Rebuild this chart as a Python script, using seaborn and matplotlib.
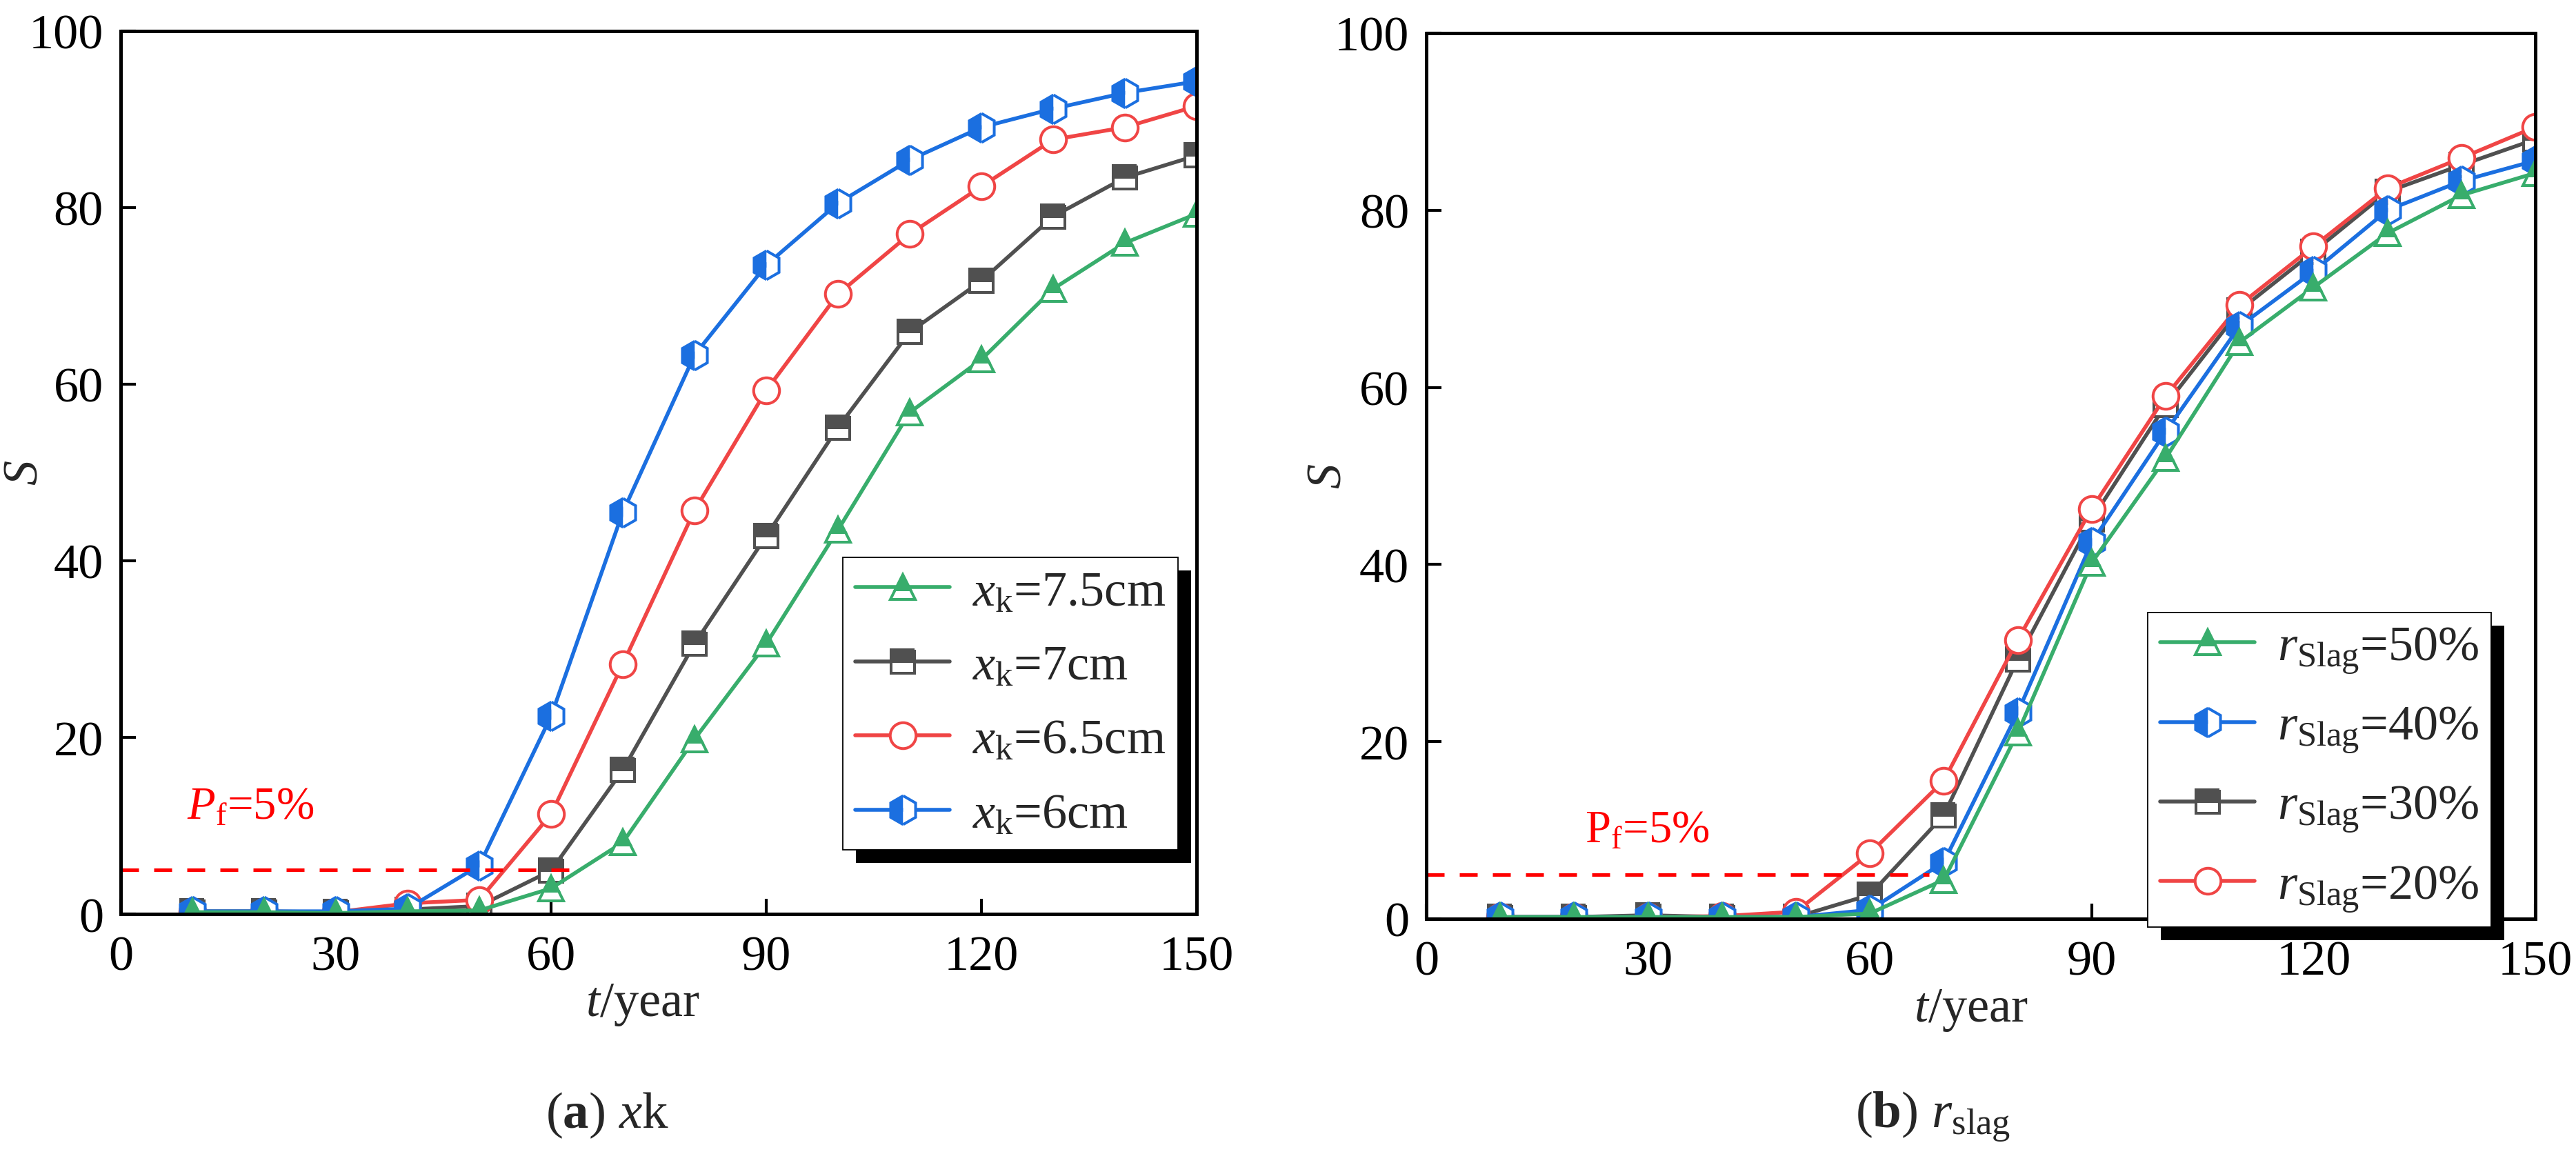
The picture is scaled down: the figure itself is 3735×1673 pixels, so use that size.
import matplotlib
matplotlib.use("Agg")
import matplotlib.pyplot as plt
from matplotlib import font_manager
from matplotlib.patches import Rectangle
import seaborn as sns

# ---- data ----
years = [10, 20, 30, 40, 50, 60, 70, 80, 90, 100, 110, 120, 130, 140, 150]

# (a) cover thickness x_k
s_xk75 = [0.2, 0.2, 0.1, 0.3, 0.4, 2.9, 8.1, 19.8, 30.6, 43.5, 56.8, 62.8, 70.8, 76.0, 79.3]
s_xk70 = [0.3, 0.3, 0.2, 0.5, 0.9, 4.9, 16.3, 30.6, 42.8, 55.1, 65.9, 71.7, 79.0, 83.4, 85.9]
s_xk65 = [0.2, 0.2, 0.2, 1.2, 1.6, 11.3, 28.3, 45.7, 59.3, 70.2, 77.0, 82.4, 87.7, 89.1, 91.5]
s_xk60 = [0.3, 0.3, 0.3, 0.6, 5.5, 22.4, 45.5, 63.3, 73.5, 80.5, 85.4, 89.1, 91.2, 93.0, 94.3]

# (b) slag content r_slag
s_r50 = [0.2, 0.2, 0.2, 0.2, 0.2, 0.6, 4.4, 21.0, 40.2, 52.0, 65.1, 71.3, 77.4, 81.7, 84.2]
s_r40 = [0.2, 0.2, 0.2, 0.2, 0.2, 1.0, 6.4, 23.3, 42.5, 55.0, 66.9, 73.1, 80.0, 83.3, 85.6]
s_r30 = [0.2, 0.2, 0.4, 0.2, 0.2, 2.7, 11.7, 29.3, 45.1, 58.0, 68.7, 75.3, 82.1, 85.1, 88.0]
s_r20 = [0.2, 0.2, 0.2, 0.3, 0.8, 7.4, 15.6, 31.5, 46.3, 59.0, 69.3, 75.9, 82.5, 85.9, 89.4]

# 5% failure probability threshold line
pf_level = [5, 5]
pf_span_a = [0, 63]
pf_span_b = [0, 68]

labels_a = [r"$x_{\mathrm{k}}$=7.5cm", r"$x_{\mathrm{k}}$=7cm",
            r"$x_{\mathrm{k}}$=6.5cm", r"$x_{\mathrm{k}}$=6cm"]
labels_b = [r"$r_{\mathrm{Slag}}$=50%", r"$r_{\mathrm{Slag}}$=40%",
            r"$r_{\mathrm{Slag}}$=30%", r"$r_{\mathrm{Slag}}$=20%"]

# ---- styling ----
sns.set_style("white")
plt.rcParams["font.family"] = ["serif"]
plt.rcParams["font.serif"] = ["Liberation Serif", "STIXGeneral", "DejaVu Serif"]
plt.rcParams["mathtext.fontset"] = "custom"
plt.rcParams["mathtext.rm"] = "Liberation Serif"
plt.rcParams["mathtext.it"] = "Liberation Serif:italic"
plt.rcParams["mathtext.bf"] = "Liberation Serif:bold"

# make sure the Times-like face is really the one in use
font_path = font_manager.findfont(font_manager.FontProperties(family=["serif"]))
if "LiberationSerif" not in font_path.replace(" ", "").replace("-", ""):
    raise RuntimeError("serif font resolved to " + font_path)

GREEN = "#38ad6c"
GRAY = "#505050"
RED = "#f04545"
BLUE = "#1b6fe0"

FS = 52
LW = 4.0
MEW = 2.9

styles = {
    "green": dict(color=GREEN, marker="^", fillstyle="top", markersize=26),
    "gray": dict(color=GRAY, marker="s", fillstyle="top", markersize=24),
    "red": dict(color=RED, marker="o", fillstyle="full", markersize=27,
                markerfacecolor="white"),
    "blue": dict(color=BLUE, marker="h", fillstyle="left", markersize=30),
}

W, H = 3735, 1674
fig = plt.figure(figsize=(W / 100, H / 100), dpi=100)
ax_a = fig.add_axes([175 / W, 1 - 1326 / H, 1560 / W, 1280 / H])
ax_b = fig.add_axes([2068 / W, 1 - 1333 / H, 1608 / W, 1284 / H])


def draw_series(ax, y, style, label):
    st = dict(style)
    color = st.pop("color")
    st.setdefault("markerfacecolor", color)
    sns.lineplot(
        x=years, y=y, ax=ax, color=color, linewidth=LW,
        markeredgecolor=color, markeredgewidth=MEW,
        markerfacecoloralt="white", errorbar=None, label=label, **st,
    )
    return ax.lines[-1]


def format_axes(ax):
    ax.set_xlim(0, 150)
    ax.set_ylim(0, 100)
    ax.set_xticks([0, 30, 60, 90, 120, 150])
    ax.set_yticks([0, 20, 40, 60, 80, 100])
    for sp in ax.spines.values():
        sp.set_visible(True)
        sp.set_linewidth(3.6)
        sp.set_color("black")
    ax.tick_params(axis="both", direction="in", length=16, width=3,
                   labelsize=FS, colors="black", top=False, right=False,
                   bottom=True, left=True)
    ax.tick_params(axis="x", pad=22)
    ax.tick_params(axis="y", pad=18)
    ax.set_ylabel(r"$S$", fontsize=FS)
    ax.yaxis.set_label_coords(-0.068, 0.5)
    ax.set_xlabel(r"$t$/year", fontsize=FS)


def add_legend(ax, handles, labels, anchor):
    leg = ax.legend(handles, labels, loc="upper left", bbox_to_anchor=anchor,
                    bbox_transform=fig.transFigure, borderaxespad=0,
                    fontsize=FS, frameon=True, fancybox=False, framealpha=1,
                    edgecolor="black", handlelength=1.9, handletextpad=0.45,
                    labelspacing=0.58, borderpad=0.25, numpoints=1)
    leg.get_frame().set_linewidth(1.3)
    leg.set_zorder(6)
    return leg


# ---- (a) x_k ----
h_gray = draw_series(ax_a, s_xk70, styles["gray"], labels_a[1])
h_red = draw_series(ax_a, s_xk65, styles["red"], labels_a[2])
h_blue = draw_series(ax_a, s_xk60, styles["blue"], labels_a[3])
h_green = draw_series(ax_a, s_xk75, styles["green"], labels_a[0])
ax_a.plot(pf_span_a, pf_level, color="red", linewidth=3.6, dashes=(5.2, 4.4))
ax_a.text(9.2, 10.8, r"$P_{\mathrm{f}}$=5%", color="red", fontsize=48)
format_axes(ax_a)
ax_a.xaxis.set_label_coords(0.485, -0.0766)
add_legend(ax_a, [h_green, h_gray, h_red, h_blue], labels_a,
           (1222 / W, 1 - 809 / H))

# ---- (b) r_slag ----
g_gray = draw_series(ax_b, s_r30, styles["gray"], labels_b[2])
g_red = draw_series(ax_b, s_r20, styles["red"], labels_b[3])
g_blue = draw_series(ax_b, s_r40, styles["blue"], labels_b[1])
g_green = draw_series(ax_b, s_r50, styles["green"], labels_b[0])
ax_b.plot(pf_span_b, pf_level, color="red", linewidth=3.6, dashes=(5.2, 4.4))
ax_b.text(21.5, 8.7, r"P$_{\mathrm{f}}$=5%", color="red", fontsize=48)
format_axes(ax_b)
ax_b.xaxis.set_label_coords(0.491, -0.077)
add_legend(ax_b, [g_green, g_blue, g_gray, g_red], labels_b,
           (3114 / W, 1 - 889 / H))

# captions
fig.text(880 / W, 1 - 1635 / H, r"($\mathbf{a}$) $x$k", fontsize=54,
         ha="center", va="baseline")
fig.text(2803 / W, 1 - 1634 / H, r"($\mathbf{b}$) $r_{\mathrm{slag}}$",
         fontsize=54, ha="center", va="baseline")

# thick offset shadow behind each legend
fig.canvas.draw()
renderer = fig.canvas.get_renderer()
for ax in (ax_a, ax_b):
    leg = ax.get_legend()
    bb = leg.get_window_extent(renderer).transformed(fig.transFigure.inverted())
    shadow = Rectangle((bb.x0 + 19 / W, bb.y0 - 19 / H), bb.width, bb.height,
                       transform=fig.transFigure, facecolor="black",
                       edgecolor="none", zorder=5.5, clip_on=False)
    ax.add_artist(shadow)

fig.savefig("out.png", dpi=100)
